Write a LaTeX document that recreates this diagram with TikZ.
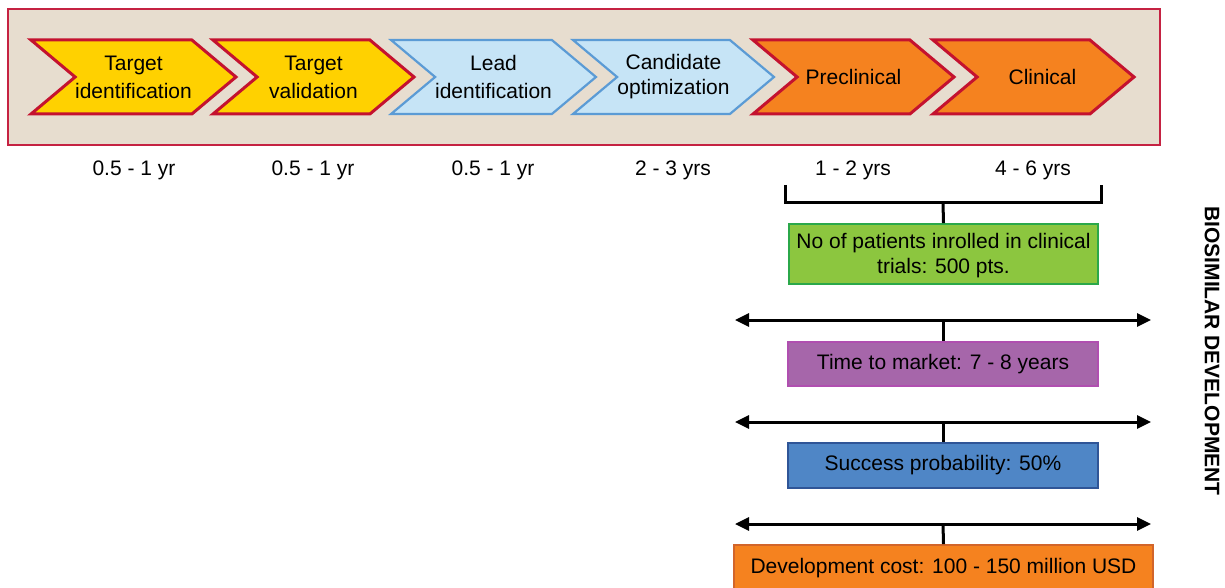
\documentclass[tikz,border=0pt]{standalone}
\usepackage{fontspec}
\setmainfont{Liberation Sans}
\usetikzlibrary{positioning,arrows.meta,shapes.symbols}
\definecolor{cbeige}{HTML}{E7DDCF}
\definecolor{frameedge}{HTML}{C52242}
\definecolor{ccrimson}{HTML}{C4122F}
\definecolor{cyellow}{HTML}{FFD100}
\definecolor{paleblue}{HTML}{C6E4F6}
\definecolor{cblue}{HTML}{5B9BD5}
\definecolor{corange}{HTML}{F5821F}
\definecolor{corangedk}{HTML}{D2652A}
\definecolor{cgreen}{HTML}{8CC63F}
\definecolor{cgreendk}{HTML}{2BA84A}
\definecolor{cpurple}{HTML}{A666AA}
\definecolor{cpurpledk}{HTML}{B04FB0}
\definecolor{csteel}{HTML}{4F86C6}
\definecolor{csteeldk}{HTML}{2F5597}

\begin{document}
\begin{tikzpicture}[
  x=0.5pt, y=-0.5pt,
  font=\fontsize{10.5}{12.6}\selectfont,
  phase/.style={signal, signal from=west, signal to=east,
                signal pointer angle=80, minimum width=100.5pt,
                minimum height=37pt, inner sep=0pt, align=center,
                font=\fontsize{10.5}{14}\selectfont, line width=1.5pt},
  early/.style={phase, fill=cyellow, draw=ccrimson},
  lead/.style={phase, fill=paleblue, draw=cblue, line width=1.1pt},
  late/.style={phase, fill=corange, draw=ccrimson},
  fact/.style={rectangle, minimum width=155pt, minimum height=22pt,
               inner sep=2pt, align=center, line width=0.8pt},
  span/.style={{Triangle[length=7pt,width=6.5pt]}-{Triangle[length=7pt,width=6.5pt]},
               line width=1.5pt},
  stem/.style={line width=1.5pt},
]
\useasboundingbox (0,0) rectangle (1225,588);

% ---- Phase band -------------------------------------------------------------
\node[draw=frameedge, fill=cbeige, line width=0.6pt, minimum width=576pt,
      minimum height=68pt] (band) at (584,77) {};
\node[early] (tid)  at (133.5,77)  {Target\\ identification};
\node[early] (tval) at (313.5,77)  {Target\\ validation};
\node[lead]  (lid)  at (493.5,77)  {Lead\\ identification};
\node[lead]  (copt) at (673.5,77)  {Candidate\\[-1.5pt] optimization};
\node[late]  (pre)  at (853.5,77)  {Preclinical};
\node[late]  (clin) at (1033.5,77) {\hspace*{9pt}Clinical};

% ---- Durations --------------------------------------------------------------
\node (dtid)  at (134,170)  {0.5 - 1 yr};
\node (dtval) at (313,170)  {0.5 - 1 yr};
\node (dlid)  at (493,170)  {0.5 - 1 yr};
\node (dcopt) at (673,170)  {2 - 3 yrs};
\node (dpre)  at (853,170)  {1 - 2 yrs};
\node (dclin) at (1033,170) {4 - 6 yrs};

% ---- Facts ------------------------------------------------------------------
\node[fact, fill=cgreen, draw=cgreendk, minimum width=154.5pt,
      minimum height=30pt] (patients) at (943.5,254)
  {\rule{0pt}{9pt}No of patients inrolled in clinical\\ trials: 500 pts.};
\node[fact, fill=cpurple, draw=cpurpledk] (market) at (943,364)
  {Time to market: 7 - 8 years};
\node[fact, fill=csteel, draw=csteeldk, minimum height=22.5pt] (success)
  at (943,465.5) {Success probability: 50\%};
\node[fact, fill=corange, draw=corangedk, minimum width=209.5pt,
      minimum height=23pt] (cost) at (943.5,568)
  {Development cost: 100 - 150 million USD};

\node[rotate=-90, font=\bfseries\fontsize{10.5}{12}\selectfont] (title)
  at (1212,351) {BIOSIMILAR DEVELOPMENT};

% ---- Connectors -------------------------------------------------------------
\coordinate (bl) at (785,185);
\coordinate (br) at (1101,185);
\coordinate (brace) at (943,203);
\draw[stem] (bl) |- (brace) -| (br);
\draw[stem] (brace) -- (patients.north);

\coordinate (s1l) at (735,320);  \coordinate (s1r) at (1151,320);
\coordinate (s2l) at (735,422);  \coordinate (s2r) at (1151,422);
\coordinate (s3l) at (735,524);  \coordinate (s3r) at (1151,524);
\draw[span] (s1l) -- (s1r);
\draw[span] (s2l) -- (s2r);
\draw[span] (s3l) -- (s3r);
\draw[stem] (943,320) -- (market.north);
\draw[stem] (943,422) -- (success.north);
\draw[stem] (943,524) -- (cost.north);

\end{tikzpicture}
\end{document}
